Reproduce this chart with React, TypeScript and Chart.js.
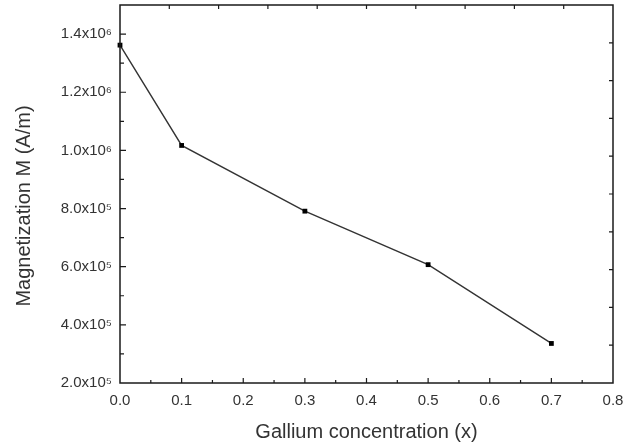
import React, { useEffect, useRef } from "react";
import { Chart, registerables } from "chart.js";

Chart.register(...registerables);

// ---- data ----
const gallium = [0, 0.1, 0.3, 0.5, 0.7];
const magnetization = [1.362e6, 1.017e6, 7.91e5, 6.07e5, 3.36e5];

const xTickValues = [0, 0.1, 0.2, 0.3, 0.4, 0.5, 0.6, 0.7, 0.8];
const xTickLabels = ["0.0", "0.1", "0.2", "0.3", "0.4", "0.5", "0.6", "0.7", "0.8"];
const yTickValues = [2e5, 4e5, 6e5, 8e5, 1e6, 1.2e6, 1.4e6];
const yTickLabels = ["2.0x10⁵", "4.0x10⁵", "6.0x10⁵", "8.0x10⁵", "1.0x10⁶", "1.2x10⁶", "1.4x10⁶"];

const xTitle = "Gallium concentration (x)";
const yTitle = "Magnetization M (A/m)";

const FONT = "'Liberation Sans', Arial, Helvetica, sans-serif";
const TEXT = "#333333";

const framePlugin = {
  id: "frame",
  afterDraw(chart: any) {
    const { ctx, chartArea, scales } = chart;
    const { left, right, top, bottom } = chartArea;
    const x = scales.x;
    const y = scales.y;
    ctx.save();
    ctx.strokeStyle = "#1a1a1a";
    ctx.lineWidth = 1.5;
    ctx.strokeRect(left, top, right - left, bottom - top);
    ctx.lineWidth = 1.2;
    ctx.beginPath();
    // bottom ticks (major 0.1, minor 0.05)
    for (let i = 1; i < 16; i++) {
      const px = x.getPixelForValue(i * 0.05);
      const len = i % 2 === 0 ? 5 : 3;
      ctx.moveTo(px, bottom);
      ctx.lineTo(px, bottom - len);
    }
    // left ticks (major 2e5, minor 1e5)
    for (let i = 1; i < 13; i++) {
      const py = y.getPixelForValue(2e5 + i * 1e5);
      const len = i % 2 === 0 ? 6 : 4;
      ctx.moveTo(left, py);
      ctx.lineTo(left + len, py);
    }
    // top ticks (10 divisions)
    for (let i = 1; i < 10; i++) {
      const px = left + ((right - left) * i) / 10;
      ctx.moveTo(px, top);
      ctx.lineTo(px, top + 4);
    }
    // right ticks (10 divisions)
    for (let i = 1; i < 10; i++) {
      const py = top + ((bottom - top) * i) / 10;
      ctx.moveTo(right, py);
      ctx.lineTo(right - 4, py);
    }
    ctx.stroke();

    // y-axis title
    ctx.translate(24, (top + bottom) / 2 + 12);
    ctx.rotate(-Math.PI / 2);
    ctx.fillStyle = TEXT;
    ctx.font = `20px ${FONT}`;
    ctx.textAlign = "center";
    ctx.textBaseline = "middle";
    ctx.fillText(yTitle, 0, 0);
    ctx.restore();
  },
};

export default function App() {
  const canvasRef = useRef<HTMLCanvasElement | null>(null);

  useEffect(() => {
    document.body.style.margin = "0";
    const canvas = canvasRef.current;
    if (!canvas) return;
    const chart = new Chart(canvas, {
      type: "line",
      data: {
        datasets: [
          {
            data: gallium.map((g, i) => ({ x: g, y: magnetization[i] })),
            borderColor: "#333333",
            borderWidth: 1.4,
            backgroundColor: "#000000",
            pointStyle: "rect",
            pointRadius: 3.4,
            pointBorderWidth: 0,
            pointBackgroundColor: "#000000",
            tension: 0,
            clip: false as any,
          },
        ],
      },
      options: {
        responsive: false,
        animation: false,
        devicePixelRatio: 1,
        layout: { padding: { top: 5, right: 21, left: 4, bottom: 0 } },
        plugins: { legend: { display: false }, tooltip: { enabled: false } },
        scales: {
          x: {
            type: "linear",
            min: 0,
            max: 0.8,
            afterBuildTicks: (s: any) => {
              s.ticks = xTickValues.map((v) => ({ value: v }));
            },
            afterFit: (s: any) => {
              s.height = 64;
              s.paddingLeft = 0;
              s.paddingRight = 0;
            },
            ticks: {
              color: TEXT,
              font: { family: FONT, size: 15 },
              padding: 9,
              maxRotation: 0,
              autoSkip: false,
              callback: (v: any) => {
                const i = xTickValues.findIndex((t) => Math.abs(t - v) < 1e-9);
                return i >= 0 ? xTickLabels[i] : "";
              },
            },
            grid: { display: false, drawTicks: false },
            border: { display: false },
            title: {
              display: true,
              text: xTitle,
              color: TEXT,
              font: { family: FONT, size: 20 },
              padding: { top: 6, bottom: 3 },
            },
          },
          y: {
            type: "linear",
            min: 2e5,
            max: 1.5e6,
            afterBuildTicks: (s: any) => {
              s.ticks = yTickValues.map((v) => ({ value: v }));
            },
            afterFit: (s: any) => {
              s.width = 116;
              s.paddingTop = 0;
              s.paddingBottom = 0;
            },
            ticks: {
              color: TEXT,
              font: { family: FONT, size: 15 },
              padding: 8,
              autoSkip: false,
              callback: (v: any) => {
                const i = yTickValues.findIndex((t) => Math.abs(t - v) < 1);
                return i >= 0 ? yTickLabels[i] : "";
              },
            },
            grid: { display: false, drawTicks: false },
            border: { display: false },
            title: { display: false },
          },
        },
      },
      plugins: [framePlugin],
    });
    return () => chart.destroy();
  }, []);

  return (
    <div style={{ width: 634, height: 447 }}>
      <canvas ref={canvasRef} width={634} height={447} style={{ display: "block" }} />
    </div>
  );
}
